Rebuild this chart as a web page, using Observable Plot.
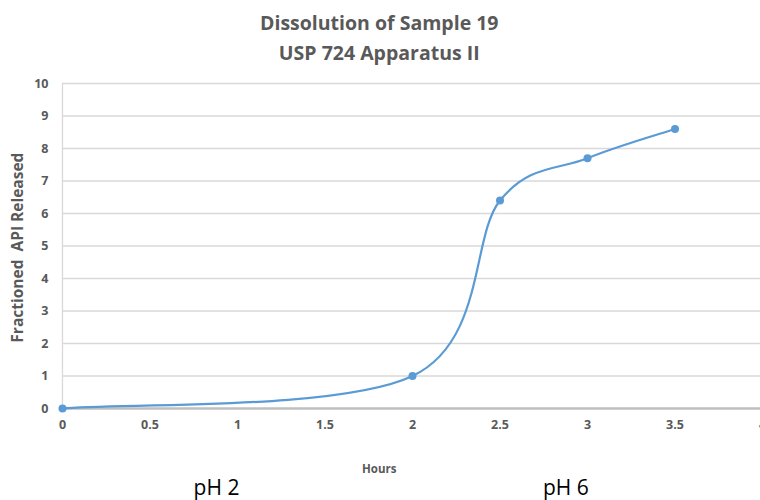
<!DOCTYPE html>
<html><head><meta charset="utf-8">
<script src="https://cdn.jsdelivr.net/npm/d3@7"></script>
<script src="https://cdn.jsdelivr.net/npm/@observablehq/plot@0.6"></script>
<style>body{margin:0;background:#fff;overflow:hidden}</style>
</head><body><div id="chart"></div>
<script>
const hours = [0, 2, 2.5, 3, 3.5];
const released = [0, 1, 6.4, 7.7, 8.6];
const xTicks = [0, 0.5, 1, 1.5, 2, 2.5, 3, 3.5, 4];
const yTicks = [0, 1, 2, 3, 4, 5, 6, 7, 8, 9, 10];
const titleLines = ["Dissolution of Sample 19", "USP 724 Apparatus II"];
const xLabel = "Hours";
const yLabel = "Fractioned  API Released";
const phLabels = ["pH 2", "pH 6"];

const data = hours.map((h, i) => ({hours: h, released: released[i]}));
const font = "'Open Sans', sans-serif";
const grey = "#595959";

// Spreadsheet-style smoothed line: cubic Bezier through each point,
// tangent parallel to the chord between its neighbours.
function smoothCurve(context) {
  let pts;
  return {
    areaStart() {}, areaEnd() {},
    lineStart() { pts = []; },
    point(x, y) { pts.push([+x, +y]); },
    lineEnd() {
      const n = pts.length;
      if (!n) return;
      context.moveTo(pts[0][0], pts[0][1]);
      for (let i = 0; i < n - 1; i++) {
        const p0 = pts[Math.max(i - 1, 0)], p1 = pts[i], p2 = pts[i + 1], p3 = pts[Math.min(i + 2, n - 1)];
        const d12 = Math.hypot(p2[0] - p1[0], p2[1] - p1[1]);
        const handle = (a, b) => {
          let vx = (b[0] - a[0]) / 6, vy = (b[1] - a[1]) / 6;
          const L = Math.hypot(vx, vy);
          if (L > d12 / 2) { vx *= d12 / 2 / L; vy *= d12 / 2 / L; }
          return [vx, vy];
        };
        const v1 = handle(p0, p2), v2 = handle(p1, p3);
        context.bezierCurveTo(p1[0] + v1[0], p1[1] + v1[1], p2[0] - v2[0], p2[1] - v2[1], p2[0], p2[1]);
      }
    }
  };
}

const chart = Plot.plot({
  width: 760,
  height: 500,
  marginTop: 83,
  marginBottom: 92,
  marginLeft: 62,
  marginRight: -2,
  style: {fontFamily: font, background: "#fff", overflow: "hidden"},
  x: {domain: [0, 4], ticks: xTicks, tickFormat: d => String(d), tickSize: 0, tickPadding: 12, label: null},
  y: {domain: [0, 10], ticks: yTicks, tickSize: 0, tickPadding: 14, label: null},
  marks: [
    Plot.gridY(yTicks.filter(d => d > 0), {stroke: "#d9d9d9", strokeOpacity: 1, strokeWidth: 1.3}),
    Plot.ruleX([0], {y1: 0, y2: 10, stroke: "#d9d9d9", strokeWidth: 1.3}),
    Plot.ruleY([0], {stroke: "#bfbfbf", strokeWidth: 2.5}),
    Plot.axisX({ticks: xTicks, tickSize: 0, tickPadding: 12, fontSize: 12.5, fontWeight: "bold", fill: grey, label: null, tickFormat: d => String(d)}),
    Plot.axisY({ticks: yTicks, tickSize: 0, tickPadding: 14, fontSize: 12.5, fontWeight: "bold", fill: grey, label: null}),
    Plot.line(data, {x: "hours", y: "released", curve: smoothCurve, stroke: "#5b9bd5", strokeWidth: 2.2}),
    Plot.dot(data, {x: "hours", y: "released", r: 4, fill: "#5b9bd5", stroke: "none"}),
    Plot.text([titleLines[0]], {frameAnchor: "top", x: 1.81, dy: -67, fontSize: 19.5, fontWeight: "bold", fill: grey}),
    Plot.text([titleLines[1]], {frameAnchor: "top", x: 1.81, dy: -37, fontSize: 19.5, fontWeight: "bold", fill: grey}),
    Plot.text([xLabel], {frameAnchor: "bottom", x: 1.81, dy: 64, fontSize: 11.5, fontWeight: "bold", fill: grey}),
    Plot.text([phLabels[0]], {frameAnchor: "bottom", x: 0.88, dy: 86, fontSize: 21, fill: "#000"}),
    Plot.text([phLabels[1]], {frameAnchor: "bottom", x: 2.876, dy: 86, fontSize: 21, fill: "#000"}),
    Plot.text([yLabel], {frameAnchor: "left", textAnchor: "middle", dx: -44, y: 4.95, rotate: -90, fontSize: 15.5, fontWeight: "bold", fill: grey})
  ]
});
document.getElementById("chart").appendChild(chart);
</script>
</body></html>
